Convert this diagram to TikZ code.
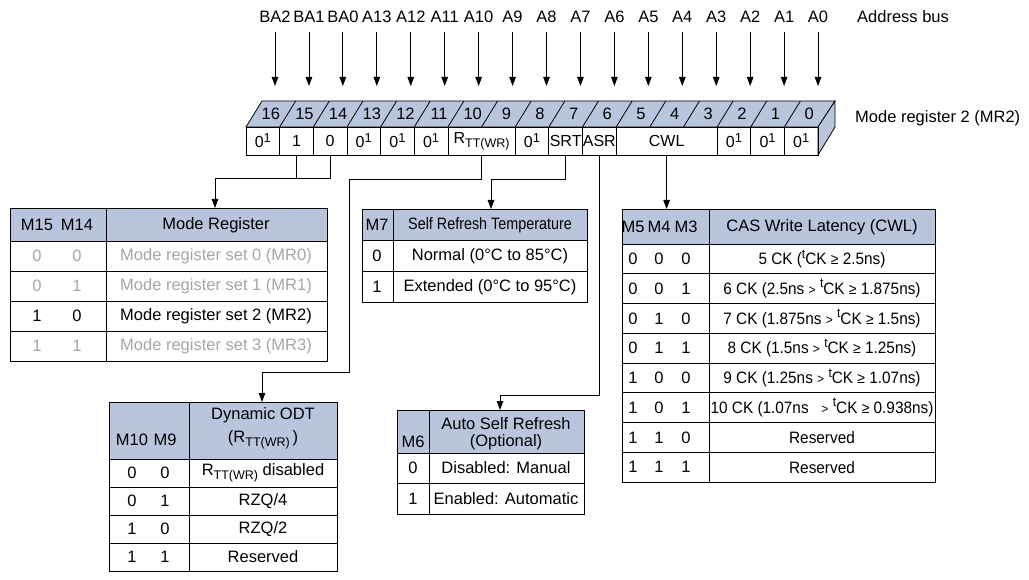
\documentclass[tikz,border=0pt]{standalone}
\usepackage{fontspec}
\setmainfont{Liberation Sans}
\usetikzlibrary{arrows.meta,calc}
\definecolor{hdrblue}{HTML}{B9C5DD}
\definecolor{paleink}{HTML}{A5A5A5}
\newcommand\zo{0\raisebox{.6ex}{\fontsize{13}{13}\selectfont 1}}
\newcommand\rtt{R\raisebox{-.45ex}{\fontsize{12.5}{12.5}\selectfont TT(WR)}}
\newcommand\tck{\raisebox{.75ex}{\fontsize{13}{13}\selectfont t}CK}
\newcommand\smgt{{\fontsize{13}{13}\selectfont >}}
\newcommand\smge{{\fontsize{15}{15}\selectfont ≥}}
\tikzset{
  txt/.style={font=\fontsize{16.5}{18}\selectfont, inner sep=0pt},
  cell/.style={draw, line width=0.8pt, minimum height=28pt, inner sep=0pt,
               font=\fontsize{16}{18}\selectfont},
  frame/.style={draw, line width=0.9pt, inner sep=0pt, anchor=north west},
  rule/.style={line width=0.7pt},
  wire/.style={line width=0.8pt},
  arr/.style={-{Triangle[length=9pt,width=6.5pt]}, line width=0.8pt},
}

\begin{document}
\begin{tikzpicture}[x=1pt, y=-1pt]
  \useasboundingbox (0,0) rectangle (1029,580);

  % address bus
  \foreach \b/\lbl in {16/BA2,15/BA1,14/BA0,13/A13,12/A12,11/A11,10/A10,9/A9,8/A8,
                       7/A7,6/A6,5/A5,4/A4,3/A3,2/A2,1/A1,0/A0} {
    \node[txt] (a\b) at ({275+(16-\b)*33.94},17) {\lbl};
    \coordinate (t\b) at ({275+(16-\b)*33.94},86);
    \draw[arr, shorten <=9pt] (a\b.south) -- (t\b);
  }
  \node[txt, anchor=west] (busname) at (857,17) {Address bus};

  % register
  \draw[wire, fill=hdrblue] (246,127) -- (262,101) -- (835,101) -- (818,127) -- cycle;
  \draw[wire, fill=hdrblue] (818,127) -- (835,101) -- (835,127) -- (818,155) -- cycle;
  \foreach \k in {1,...,16}
    \draw[wire] ({246+\k*33.65},127) -- ++(16,-26);
  \foreach \b in {16,...,0}
    \node[txt] (n\b) at ({246+(16.5-\b)*33.65+8},114) {\b};
  \foreach \nm/\k/\n/\val in {f16/0/1/\zo, f15/1/1/1, f14/2/1/0, f13/3/1/\zo, f12/4/1/\zo,
                              f11/5/1/\zo, fodt/6/2/\rtt, f8/8/1/\zo, fsrt/9/1/SRT,
                              fasr/10/1/ASR, fcwl/11/3/CWL, f2/14/1/\zo, f1/15/1/\zo, f0/16/1/\zo}
    \node[cell, minimum width=\n*33.65pt] (\nm) at ({246+(\k+\n/2)*33.65},141) {\val};
  \node[txt, anchor=west] (regname) at (855,118) {Mode register 2 (MR2)};

  % mode register table
  \fill[hdrblue] (10,208) rectangle (327,241);
  \node[frame, minimum width=317pt, minimum height=153pt] (mrtab) at (10,208) {};
  \foreach \yy in {241,271,301,331} \draw[rule] (10,\yy) -- (327,\yy);
  \draw[rule] (106,208) -- (106,361);
  \node[txt] (mrh1) at (37,225) {M15};
  \node[txt] (mrh2) at (77,225) {M14};
  \node[txt] (mrh3) at (216,225) {Mode Register};
  \foreach \r/\p/\q/\d/\c in {0/0/0/{Mode register set 0 (MR0)}/paleink,
                              1/0/1/{Mode register set 1 (MR1)}/paleink,
                              2/1/0/{Mode register set 2 (MR2)}/black,
                              3/1/1/{Mode register set 3 (MR3)}/paleink} {
    \node[txt, text=\c] (mrp\r) at (37,256+30*\r) {\p};
    \node[txt, text=\c] (mrq\r) at (77,256+30*\r) {\q};
    \node[txt, text=\c] (mrd\r) at (216,256+30*\r) {\d};
  }

  % self refresh temperature table
  \fill[hdrblue] (362,209) rectangle (587,240);
  \node[frame, minimum width=225pt, minimum height=93pt] (srttab) at (362,209) {};
  \draw[rule] (362,240) -- (587,240);
  \draw[rule] (362,271) -- (587,271);
  \draw[rule] (393,209) -- (393,302);
  \node[txt] (srth1) at (377,225) {M7};
  \node[txt] (srth2) at (490,225) {\scalebox{0.87}[1]{Self Refresh Temperature}};
  \node[txt] (srtp0) at (377,256) {0};
  \node[txt] (srtd0) at (490,256) {Normal (0°C to 85°C)};
  \node[txt] (srtp1) at (377,287) {1};
  \node[txt] (srtd1) at (490,287) {Extended (0°C to 95°C)};

  % cas write latency table
  \fill[hdrblue] (622,209) rectangle (935,244);
  \node[frame, minimum width=313pt, minimum height=273pt] (cwltab) at (622,209) {};
  \foreach \i in {0,...,7} \draw[rule] (622,{244+29.75*\i}) -- (935,{244+29.75*\i});
  \draw[rule] (709,209) -- (709,482);
  \node[txt] (cwlh1) at (633,227) {M5};
  \node[txt] (cwlh2) at (659,227) {M4};
  \node[txt] (cwlh3) at (686,227) {M3};
  \node[txt] (cwlh4) at (822,227) {CAS Write Latency (CWL)};
  \foreach \i/\p/\q/\s/\d in {0/0/0/0/{5 CK (\tck\ \smge\ 2.5ns)},
                              1/0/0/1/{6 CK (2.5ns \smgt\ \tck\ \smge\ 1.875ns)},
                              2/0/1/0/{7 CK (1.875ns \smgt\ \tck\ \smge\ 1.5ns)},
                              3/0/1/1/{8 CK (1.5ns \smgt\ \tck\ \smge\ 1.25ns)},
                              4/1/0/0/{9 CK (1.25ns \smgt\ \tck\ \smge\ 1.07ns)},
                              5/1/0/1/{10 CK (1.07ns \ \ \smgt\ \tck\ \smge\ 0.938ns)},
                              6/1/1/0/Reserved,
                              7/1/1/1/Reserved} {
    \node[txt] (cwlp\i) at (633,{244+29.75*(\i+0.5)}) {\p};
    \node[txt] (cwlq\i) at (659,{244+29.75*(\i+0.5)}) {\q};
    \node[txt] (cwls\i) at (686,{244+29.75*(\i+0.5)}) {\s};
    \node[txt] (cwld\i) at (822,{244+29.75*(\i+0.5)}) {\scalebox{0.93}[1]{\d}};
  }

  % dynamic odt table
  \fill[hdrblue] (109,402) rectangle (337,459);
  \node[frame, minimum width=228pt, minimum height=169pt] (odttab) at (109,402) {};
  \foreach \yy in {459,487,515,543} \draw[rule] (109,\yy) -- (337,\yy);
  \draw[rule] (189,402) -- (189,571);
  \node[txt] (odth1) at (132,440) {M10};
  \node[txt] (odth2) at (165,440) {M9};
  \node[txt] (odth3) at (263,415) {Dynamic ODT};
  \node[txt] (odth4) at (263,440) {(\rtt\,)};
  \foreach \i/\p/\q/\d in {0/0/0/{\rtt\ disabled}, 1/0/1/{RZQ/4}, 2/1/0/{RZQ/2}, 3/1/1/Reserved} {
    \node[txt] (odtp\i) at (132,473+28*\i) {\p};
    \node[txt] (odtq\i) at (165,473+28*\i) {\q};
    \node[txt] (odtd\i) at (263,473+28*\i) {\d};
  }

  % auto self refresh table
  \fill[hdrblue] (397,410) rectangle (584,453);
  \node[frame, minimum width=187pt, minimum height=104pt] (asrtab) at (397,410) {};
  \draw[rule] (397,453) -- (584,453);
  \draw[rule] (397,483) -- (584,483);
  \draw[rule] (429,410) -- (429,514);
  \node[txt] (asrh1) at (413,442) {M6};
  \node[txt] (asrh2) at (506,424) {Auto Self Refresh};
  \node[txt] (asrh3) at (506,442) {(Optional)};
  \node[txt] (asrp0) at (413,468) {0};
  \node[txt] (asrd0) at (506,468) {Disabled: Manual};
  \node[txt] (asrp1) at (413,499) {1};
  \node[txt] (asrd1) at (506,499) {Enabled: Automatic};

  % connectors
  \coordinate (kmr) at (215,178);
  \coordinate (kodt1) at (349,179);
  \coordinate (kodt2) at (262,372);
  \coordinate (ksrt) at (491,179);
  \coordinate (kasr) at (500,395);
  \draw[wire] (f14.south) |- (f15.south |- kmr);
  \draw[arr] (f15.south) |- (kmr) -- (kmr |- mrtab.north);
  \draw[arr] (fodt.south) |- (kodt1) |- (kodt2) -- (kodt2 |- odttab.north);
  \draw[arr] (fsrt.south) |- (ksrt) -- (ksrt |- srttab.north);
  \draw[arr] (fasr.south) |- (kasr) -- (kasr |- asrtab.north);
  \draw[arr] (fcwl.south) -- (fcwl.south |- cwltab.north);
\end{tikzpicture}
\end{document}
